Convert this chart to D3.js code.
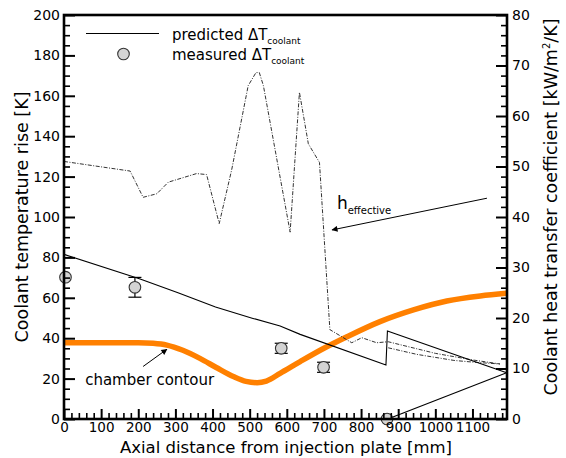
<!DOCTYPE html>
<html><head><meta charset="utf-8">
<script src="https://cdn.jsdelivr.net/npm/d3@7"></script>
<style>
body{margin:0;background:#fff;}
svg{display:block;font-family:"DejaVu Sans",Verdana,sans-serif;}
</style></head>
<body>
<svg id="chart" width="566" height="458"></svg>
<script>
// ---------- data ----------
const xTicks = [0,100,200,300,400,500,600,700,800,900,1000,1100];
const yLeftTicks = [0,20,40,60,80,100,120,140,160,180,200];
const yRightTicks = [0,10,20,30,40,50,60,70,80];

// predicted coolant temperature rise [K] (left axis)
const predictedX = [0,205,307,408,509,582,636,867,871,1192];
const predictedY = [81.5,69.3,62.5,55.4,49.8,46,41.9,26.7,43.6,22.9];
// second predicted segment (from nozzle end)
const predicted2X = [872,1192];
const predicted2Y = [0,22.9];

// measured coolant temperature rise [K]
const measuredX = [4,191,585,699,870];
const measuredY = [70.2,65.2,35,25.6,0];
const measuredErr = [0,4.9,2.5,2.5,0];

// chamber contour (drawn on left axis scale)
const contourX = [0,200,240,277,320,366,410,456,490,520,545,582,636,700,762,851,941,1031,1121,1192];
const contourY = [37.8,37.8,37.5,36.6,34,30,25.5,21,18.6,18,18.8,22.6,28.4,35,40.7,48.2,54,58.4,60.9,62.2];

// effective heat transfer coefficient [kW/m2/K] (right axis)
const hX = [0,178,213,250,281,357,384,418,452,496,517,526,537,609,634,658,688,716,775,802,842,873,1000,1100,1174];
const hY = [51.0,49.1,43.9,44.6,46.9,48.6,48.4,38.7,49.5,66,68.6,68.6,66,37,64.7,54.5,50.8,17.7,15.1,16.1,15.1,15.3,13,11.7,10.9];
const h2X = [873,950,1050,1111,1174];
const h2Y = [14.1,12.8,11.6,11.2,10.9];

// annotations (data coords on left axis)
const chamberArrow = {x1:213, y1:26, x2:277, y2:34.5};
const chamberLabel = {x:57, y:16.8, text:"chamber contour"};
const hArrow = {x1:1139, y1:109.3, x2:722, y2:93.6};
const hLabel = {x:735, y:104, text:"h", sub:"effective"};

// ---------- layout ----------
const svg = d3.select("#chart");
const L = 64, R = 507, T = 15, B = 419;
const x = d3.scaleLinear().domain([0,1193]).range([L,R]);
const yL = d3.scaleLinear().domain([0,200]).range([B,T]);
const yR = d3.scaleLinear().domain([0,80]).range([B,T]);

const defs = svg.append("defs");
defs.append("clipPath").attr("id","clip").append("rect")
  .attr("x",L).attr("y",T).attr("width",R-L).attr("height",B-T);
defs.append("marker").attr("id","arrow").attr("viewBox","0 0 10 10")
  .attr("refX",9).attr("refY",5).attr("markerWidth",9).attr("markerHeight",6)
  .attr("markerUnits","userSpaceOnUse").attr("orient","auto")
  .append("path").attr("d","M0,0 L10,5 L0,10 z").attr("fill","#000");

const plot = svg.append("g").attr("clip-path","url(#clip)");

const lineL = (xs,ys,curve)=>d3.line().x(i=>x(xs[i])).y(i=>yL(ys[i])).curve(curve||d3.curveLinear)(d3.range(xs.length));
const lineR = (xs,ys)=>d3.line().x(i=>x(xs[i])).y(i=>yR(ys[i]))(d3.range(xs.length));

// chamber contour
plot.append("path").attr("d",lineL(contourX,contourY,d3.curveMonotoneX))
  .attr("fill","none").attr("stroke","#ff8000").attr("stroke-width",5.5);

// h effective
[[hX,hY],[h2X,h2Y]].forEach(([xs,ys])=>{
  plot.append("path").attr("d",lineR(xs,ys)).attr("fill","none")
    .attr("stroke","#333").attr("stroke-width",1).attr("stroke-dasharray","4,1.5,1,1.5");
});

// predicted
[[predictedX,predictedY],[predicted2X,predicted2Y]].forEach(([xs,ys])=>{
  plot.append("path").attr("d",lineL(xs,ys)).attr("fill","none")
    .attr("stroke","#000").attr("stroke-width",1.1);
});

// measured with error bars
const mg = svg.append("g");
measuredX.forEach((mx,i)=>{
  const cx = x(mx), e = measuredErr[i];
  if(e>0){
    const y1 = yL(measuredY[i]+e), y2 = yL(measuredY[i]-e);
    mg.append("line").attr("x1",cx).attr("x2",cx).attr("y1",y1).attr("y2",y2).attr("stroke","#000").attr("stroke-width",1.2);
    [y1,y2].forEach(yy=>mg.append("line").attr("x1",cx-6.5).attr("x2",cx+6.5).attr("y1",yy).attr("y2",yy).attr("stroke","#000").attr("stroke-width",1.2));
  }
  mg.append("circle").attr("cx",cx).attr("cy",yL(measuredY[i])).attr("r",5.8)
    .attr("fill","#d4d4d4").attr("stroke","#333").attr("stroke-width",1.1);
});

// axes
function axisGroup(gen, tx, ty, fs){
  const g = svg.append("g").attr("transform",`translate(${tx},${ty})`).call(gen);
  g.select(".domain").remove();
  g.selectAll(".tick line").attr("stroke","#000").attr("stroke-width",2);
  g.selectAll(".tick text").attr("font-size",fs||14).attr("fill","#000").attr("font-family","DejaVu Sans, Verdana, sans-serif");
  return g;
}
const minor = (arr, step, max)=>d3.range(0,max+0.001,step).filter(v=>!arr.includes(v));
// bottom
axisGroup(d3.axisBottom(x).tickValues(xTicks).tickSizeInner(-10).tickSizeOuter(0).tickPadding(3).tickFormat(d3.format("d")),0,B,13.5);
axisGroup(d3.axisBottom(x).tickValues(minor(xTicks,20,1190)).tickSizeInner(-6).tickSizeOuter(0).tickFormat(""),0,B)
  .selectAll(".tick line").attr("stroke-width",1.6);
// left
axisGroup(d3.axisLeft(yL).tickValues(yLeftTicks).tickSizeInner(-11).tickSizeOuter(0).tickPadding(4),L,0);
axisGroup(d3.axisLeft(yL).tickValues(minor(yLeftTicks,5,200)).tickSizeInner(-6).tickSizeOuter(0).tickFormat(""),L,0)
  .selectAll(".tick line").attr("stroke-width",1.6);
// right
axisGroup(d3.axisRight(yR).tickValues(yRightTicks).tickSizeInner(-11).tickSizeOuter(0).tickPadding(5),R,0);
axisGroup(d3.axisRight(yR).tickValues(minor(yRightTicks,2,80)).tickSizeInner(-6).tickSizeOuter(0).tickFormat(""),R,0)
  .selectAll(".tick line").attr("stroke-width",1.6);

svg.append("rect").attr("x",L).attr("y",T).attr("width",R-L).attr("height",B-T)
  .attr("fill","none").attr("stroke","#000").attr("stroke-width",2.6);

// axis titles
svg.append("text").attr("x",286).attr("y",453).attr("text-anchor","middle")
  .attr("font-size",16.5).text("Axial distance from injection plate [mm]");
svg.append("text").attr("transform",`translate(28,${(T+B)/2})rotate(-90)`).attr("text-anchor","middle")
  .attr("font-size",17.5).text("Coolant temperature rise [K]");
const rt = svg.append("text").attr("transform",`translate(557,${(T+B)/2-10}) rotate(-90)`).attr("text-anchor","middle")
  .attr("font-size",17.5);
rt.append("tspan").text("Coolant heat transfer coefficient [kW/m");
rt.append("tspan").attr("dy",-7).attr("font-size",10).text("2");
rt.append("tspan").attr("dy",7).text("/K]");

// legend
const lg = svg.append("g");
lg.append("line").attr("x1",86).attr("x2",159).attr("y1",33.5).attr("y2",33.5).attr("stroke","#000").attr("stroke-width",1.1);
lg.append("circle").attr("cx",123.5).attr("cy",54).attr("r",5.8).attr("fill","#d4d4d4").attr("stroke","#333").attr("stroke-width",1.1);
[["predicted ",40],["measured ",60]].forEach(([t,yy])=>{
  const tx = lg.append("text").attr("x",172).attr("y",yy).attr("font-size",15);
  tx.append("tspan").text(t+"\u0394T");
  tx.append("tspan").attr("dy",4).attr("font-size",9).text("coolant");
});

// annotations
svg.append("line").attr("x1",x(chamberArrow.x1)).attr("y1",yL(chamberArrow.y1))
  .attr("x2",x(chamberArrow.x2)).attr("y2",yL(chamberArrow.y2))
  .attr("stroke","#000").attr("stroke-width",1).attr("marker-end","url(#arrow)");
svg.append("text").attr("x",x(chamberLabel.x)).attr("y",yL(chamberLabel.y)).attr("font-size",15).text(chamberLabel.text);
svg.append("line").attr("x1",x(hArrow.x1)).attr("y1",yL(hArrow.y1))
  .attr("x2",x(hArrow.x2)).attr("y2",yL(hArrow.y2))
  .attr("stroke","#000").attr("stroke-width",1).attr("marker-end","url(#arrow)");
const ht = svg.append("text").attr("x",x(hLabel.x)).attr("y",yL(hLabel.y)).attr("font-size",17);
ht.append("tspan").text(hLabel.text);
ht.append("tspan").attr("dy",5).attr("font-size",10).text(hLabel.sub);
</script>
</body></html>
